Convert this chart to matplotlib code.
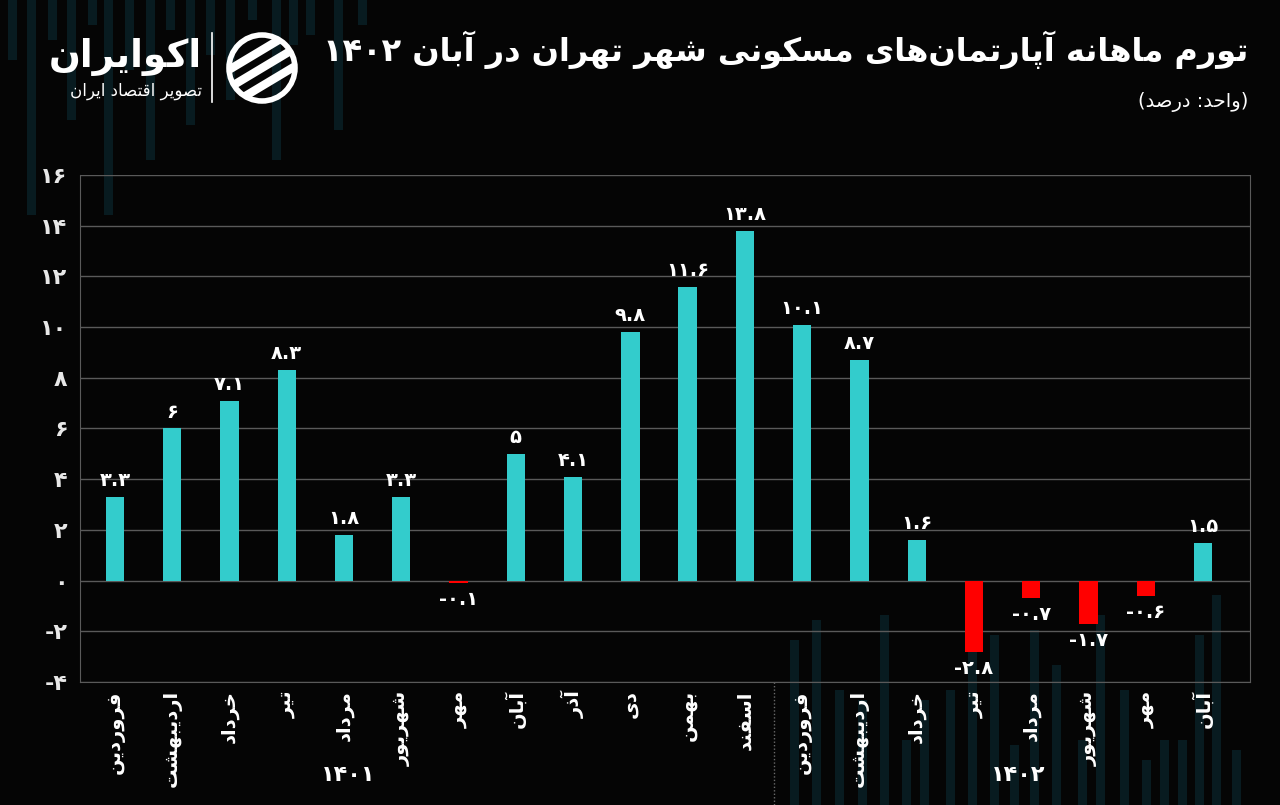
import matplotlib
matplotlib.use("Agg")
import matplotlib.pyplot as plt
from matplotlib.patches import Circle, Rectangle
import matplotlib.transforms as mtransforms

# ---------------- data ----------------
months = ["فروردین", "اردیبهشت", "خرداد", "تیر", "مرداد", "شهریور", "مهر",
          "آبان", "آذر", "دی", "بهمن", "اسفند",
          "فروردین", "اردیبهشت", "خرداد", "تیر", "مرداد", "شهریور", "مهر", "آبان"]
values = [3.3, 6, 7.1, 8.3, 1.8, 3.3, -0.1, 5, 4.1, 9.8, 11.6, 13.8,
          10.1, 8.7, 1.6, -2.8, -0.7, -1.7, -0.6, 1.5]
years = ["1401", "1402"]
yticks = [-4, -2, 0, 2, 4, 6, 8, 10, 12, 14, 16]
title = "تورم ماهانه آپارتمان\u200cهای مسکونی شهر تهران در آبان 1402"
subtitle = "(واحد: درصد)"
brand = "اکوایران"
brand_sub = "تصویر اقتصاد ایران"

# ---------------- minimal Persian shaping ----------------
DUAL = {
    'ب': (0xFE8F, 0xFE90, 0xFE91, 0xFE92), 'پ': (0xFB56, 0xFB57, 0xFB58, 0xFB59),
    'ت': (0xFE95, 0xFE96, 0xFE97, 0xFE98), 'ح': (0xFEA1, 0xFEA2, 0xFEA3, 0xFEA4),
    'خ': (0xFEA5, 0xFEA6, 0xFEA7, 0xFEA8), 'س': (0xFEB1, 0xFEB2, 0xFEB3, 0xFEB4),
    'ش': (0xFEB5, 0xFEB6, 0xFEB7, 0xFEB8), 'ص': (0xFEB9, 0xFEBA, 0xFEBB, 0xFEBC),
    'ف': (0xFED1, 0xFED2, 0xFED3, 0xFED4), 'ق': (0xFED5, 0xFED6, 0xFED7, 0xFED8),
    'ک': (0xFB8E, 0xFB8F, 0xFB90, 0xFB91), 'م': (0xFEE1, 0xFEE2, 0xFEE3, 0xFEE4),
    'ن': (0xFEE5, 0xFEE6, 0xFEE7, 0xFEE8), 'ه': (0xFEE9, 0xFEEA, 0xFEEB, 0xFEEC),
    'ی': (0xFBFC, 0xFBFD, 0xFBFE, 0xFBFF),
}
RIGHT = {
    'ا': (0xFE8D, 0xFE8E), 'آ': (0xFE81, 0xFE82), 'د': (0xFEA9, 0xFEAA),
    'ذ': (0xFEAB, 0xFEAC), 'ر': (0xFEAD, 0xFEAE), 'ز': (0xFEAF, 0xFEB0),
    'و': (0xFEED, 0xFEEE),
}
FA_DIGITS = str.maketrans("0123456789", "۰۱۲۳۴۵۶۷۸۹")


def shape(s):
    out = []
    for i, c in enumerate(s):
        if c in DUAL or c in RIGHT:
            prev = s[i - 1] if i > 0 else ''
            nxt = s[i + 1] if i + 1 < len(s) else ''
            jp = prev in DUAL
            jn = c in DUAL and (nxt in DUAL or nxt in RIGHT)
            forms = DUAL.get(c) or RIGHT.get(c)
            if jp and jn:
                f = forms[3]
            elif jp:
                f = forms[1]
            elif jn:
                f = forms[2]
            else:
                f = forms[0]
            out.append(chr(f))
        elif c == '\u200c':
            continue
        else:
            out.append(c)
    return ''.join(out)


def rtl(s):
    s = shape(s.translate(FA_DIGITS))
    digits = set("۰۱۲۳۴۵۶۷۸۹")
    runs, cur, cur_d = [], '', None
    for c in s:
        d = c in digits
        if cur and d != cur_d:
            runs.append((cur, cur_d))
            cur = ''
        cur += c
        cur_d = d
    if cur:
        runs.append((cur, cur_d))
    mirror = {'(': ')', ')': '('}
    out = []
    for txt, d in reversed(runs):
        if d:
            out.append(txt)
        else:
            out.append(''.join(mirror.get(c, c) for c in reversed(txt)))
    return ''.join(out)


def fa_num(v):
    return f"{v:g}".translate(FA_DIGITS)


# ---------------- figure ----------------
BG = "#050505"
TEAL = "#33CCCC"
RED = "#FF0000"
GRID = "#5a5a5a"
DECO = "#081b20"
plt.rcParams['font.family'] = ['DejaVu Sans']

fig = plt.figure(figsize=(12.8, 8.05), dpi=100, facecolor=BG)

# decorative background bars
bg = fig.add_axes([0, 0, 1, 1], zorder=-5)
bg.set_xlim(0, 1280)
bg.set_ylim(805, 0)
bg.axis('off')
deco_top = [(8, 60), (27, 215), (48, 40), (67, 120), (88, 25), (104, 215), (125, 70),
            (146, 160), (166, 30), (186, 125), (206, 55), (226, 100), (248, 20),
            (272, 160), (289, 45), (306, 35), (334, 130), (358, 25)]
for x0, h in deco_top:
    bg.add_patch(Rectangle((x0, 0), 9, h, color=DECO, lw=0))
deco_bot = [(790, 640), (812, 620), (835, 690), (858, 700), (880, 615), (902, 740),
            (920, 700), (946, 690), (968, 600), (990, 635), (1010, 745), (1030, 630),
            (1052, 665), (1078, 740), (1096, 615), (1120, 690), (1142, 760),
            (1160, 740), (1178, 740), (1195, 635), (1212, 595), (1232, 750)]
for x0, y0 in deco_bot:
    bg.add_patch(Rectangle((x0, y0), 9, 805 - y0, color=DECO, lw=0))

ax = fig.add_axes([80 / 1280, 123 / 805, 1170 / 1280, 507 / 805], facecolor='none')
x = list(range(len(values)))
colors = [TEAL if v >= 0 else RED for v in values]
ax.bar(x, values, width=0.32, color=colors, zorder=3)

ax.set_ylim(-4, 16)
ax.set_xlim(-0.61, 19.82)
ax.set_yticks(yticks)
ax.set_yticklabels([str(t).translate(FA_DIGITS) for t in yticks],
                   color="#e8e8e8", fontsize=16, fontweight='bold')
ax.tick_params(axis='y', length=0, pad=9)
ax.set_xticks(x)
ax.set_xticklabels([rtl(m) for m in months], rotation=90, color="white",
                   fontsize=14, fontweight='bold', va='top', ha='center')
ax.tick_params(axis='x', length=0, pad=6)
ax.grid(axis='y', color=GRID, lw=1, zorder=0)
for side in ['left', 'right', 'bottom', 'top']:
    ax.spines[side].set_color(GRID)
ax.spines['top'].set_visible(False)

for xi, v in zip(x, values):
    if v >= 0:
        ax.annotate(fa_num(v), (xi, v), xytext=(0, 5), textcoords='offset points',
                    ha='center', va='bottom', color='white', fontsize=14,
                    fontweight='bold')
    else:
        ax.annotate(fa_num(v), (xi, v), xytext=(0, -5), textcoords='offset points',
                    ha='center', va='top', color='white', fontsize=14,
                    fontweight='bold')

# year separator and labels
trans = mtransforms.blended_transform_factory(ax.transData, ax.transAxes)
ax.plot([11.5, 11.5], [0, -0.245], transform=trans, color="#6a6a6a", lw=1,
        ls=(0, (1, 1.5)), clip_on=False)
ax.text(4.07, -0.184, years[0].translate(FA_DIGITS), transform=trans, ha='center',
        va='center', color='white', fontsize=16, fontweight='bold')
ax.text(15.77, -0.184, years[1].translate(FA_DIGITS), transform=trans, ha='center',
        va='center', color='white', fontsize=16, fontweight='bold')

# titles
fig.text(1248 / 1280, 1 - 50 / 805, rtl(title), ha='right', va='center',
         color='white', fontsize=23, fontweight='bold')
fig.text(1248 / 1280, 1 - 102 / 805, rtl(subtitle), ha='right', va='center',
         color='white', fontsize=14)

# logo
fig.text(202 / 1280, 1 - 57 / 805, rtl(brand), ha='right', va='center',
         color='white', fontsize=27, fontweight='bold')
fig.text(202 / 1280, 1 - 91 / 805, rtl(brand_sub), ha='right', va='center',
         color='white', fontsize=12)
bg.plot([212, 212], [33, 102], color='white', lw=1.2)
circ = Circle((262, 68), 33, facecolor='none', edgecolor='white', lw=4)
bg.add_patch(circ)
clipc = Circle((262, 68), 33, transform=bg.transData)
for off in [-18, 0, 18]:
    ln, = bg.plot([222, 302], [68 + off + 24, 68 + off - 24], color='white', lw=6,
                  solid_capstyle='butt')
    ln.set_clip_path(clipc)

fig.savefig("out.png", dpi=100, facecolor=BG)
